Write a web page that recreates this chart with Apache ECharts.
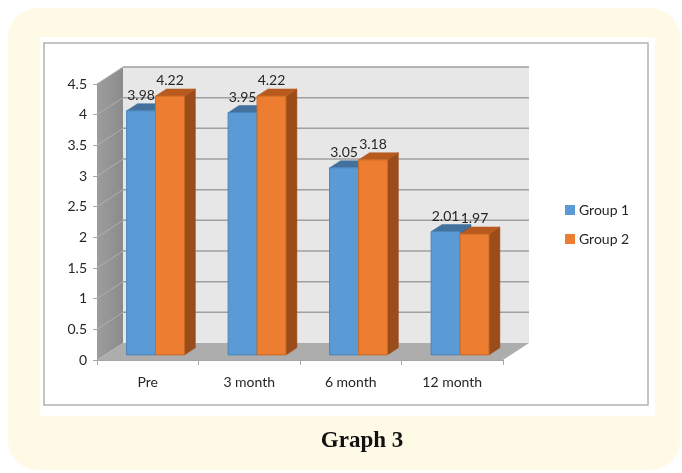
<!DOCTYPE html>
<html>
<head>
<meta charset="utf-8">
<script src="https://cdn.jsdelivr.net/npm/echarts@6/dist/echarts.min.js"></script>
<style>
  html, body { margin: 0; padding: 0; background: #ffffff; }
  #chart { width: 682px; height: 473px; }
</style>
</head>
<body>
<div id="chart"></div>
<script>
// Chart data
const categories = ['Pre', '3 month', '6 month', '12 month'];
const group1 = [3.98, 3.95, 3.05, 2.01];
const group2 = [4.22, 4.22, 3.18, 1.97];
const seriesNames = ['Group 1', 'Group 2'];
const yTicks = [0, 0.5, 1, 1.5, 2, 2.5, 3, 3.5, 4, 4.5];

// Oblique depth of the box: full depth, bar front plane, bar thickness
const DEPTH = [26, -17];
const BAR_FRONT = 0.3;
const BAR_DEPTH = 0.42;
const BAR_FRAC = 0.285;

const faces = [
  { front: '#5b9bd5', top: '#41719c', side: '#3b6a96', edge: '#4a84bb' },
  { front: '#ed7d31', top: '#b85a1e', side: '#9a4c1b', edge: '#c86a28' }
];

const chart = echarts.init(document.getElementById('chart'), null, { renderer: 'canvas' });

// Walls, floor and gridlines of the 3D box
function renderFrame(params, api) {
  const cs = params.coordSys;
  const x0 = cs.x, x1 = cs.x + cs.width;
  const yb = api.coord([0, 0])[1];
  const yt = api.coord([0, yTicks[yTicks.length - 1]])[1];
  const dx = DEPTH[0], dy = DEPTH[1];
  const children = [];
  // back wall
  children.push({ type: 'polygon', shape: { points: [[x0 + dx, yt + dy], [x1 + dx, yt + dy], [x1 + dx, yb + dy], [x0 + dx, yb + dy]] },
    style: { fill: '#e7e7e7' } });
  // left wall
  children.push({ type: 'polygon', shape: { points: [[x0, yt], [x0 + dx, yt + dy], [x0 + dx, yb + dy], [x0, yb]] },
    style: { fill: new echarts.graphic.LinearGradient(0, 0, 1, 0, [{ offset: 0, color: '#9d9d9d' }, { offset: 1, color: '#8b8b8b' }]) } });
  // floor
  children.push({ type: 'polygon', shape: { points: [[x0, yb], [x1, yb], [x1 + dx, yb + dy], [x0 + dx, yb + dy]] },
    style: { fill: '#adadad' } });
  // gridlines on left wall and back wall
  yTicks.forEach(function (v) {
    const y = api.coord([0, v])[1];
    if (v > 0) {
      children.push({ type: 'line', shape: { x1: x0, y1: y, x2: x0 + dx, y2: y + dy },
        style: { stroke: '#b0b0b0', lineWidth: 1 } });
      children.push({ type: 'line', shape: { x1: x0 + dx, y1: y + dy, x2: x1 + dx, y2: y + dy },
        style: { stroke: '#a0a0a0', lineWidth: 1.5 } });
    }
  });
  return { type: 'group', children: children };
}

// One 3D column per data item, with its value written above it
function makeBarRenderer(si) {
  const c = faces[si];
  return function (params, api) {
    const idx = api.value(0);
    const v = api.value(1);
    const base = api.coord([idx, 0]);
    const topP = api.coord([idx, v]);
    const band = api.size([1, 0])[0];
    const bw = band * BAR_FRAC;
    const fx = DEPTH[0] * BAR_FRONT, fy = DEPTH[1] * BAR_FRONT;
    const sx = DEPTH[0] * BAR_DEPTH, sy = DEPTH[1] * BAR_DEPTH;
    const cx = base[0] + fx;
    const xl = si === 0 ? cx - bw : cx;
    const xr = xl + bw;
    const by = base[1] + fy;
    const ty = topP[1] + fy;
    return {
      type: 'group',
      children: [
        { type: 'polygon', shape: { points: [[xr, ty], [xr + sx, ty + sy], [xr + sx, by + sy], [xr, by]] },
          style: { fill: c.side, stroke: c.side, lineWidth: 0.5 } },
        { type: 'polygon', shape: { points: [[xl, ty], [xr, ty], [xr + sx, ty + sy], [xl + sx, ty + sy]] },
          style: { fill: c.top, stroke: c.top, lineWidth: 0.5 } },
        { type: 'rect', shape: { x: xl, y: ty, width: bw, height: by - ty },
          style: { fill: c.front, stroke: c.edge, lineWidth: 1 } },
        { type: 'text', x: xl + bw / 2, y: ty - 15.5,
          style: { text: String(v), fill: '#262626', font: '14px Lato', align: 'center', verticalAlign: 'middle' } }
      ]
    };
  };
}

const barSeries = [group1, group2].map(function (vals, si) {
  return {
    name: seriesNames[si],
    type: 'custom',
    coordinateSystem: 'cartesian2d',
    renderItem: makeBarRenderer(si),
    itemStyle: { color: faces[si].front },
    data: vals.map(function (v, i) { return [i, v]; }),
    z: 3
  };
});

chart.setOption({
  animation: false,
  backgroundColor: '#ffffff',
  textStyle: { fontFamily: 'Lato' },
  graphic: [
    { type: 'rect', z: -10, shape: { x: 8, y: 8, width: 672, height: 462, r: 30 }, style: { fill: '#fffae6' } },
    { type: 'rect', z: -9, shape: { x: 40, y: 37, width: 615, height: 379 }, style: { fill: '#ffffff' } },
    { type: 'rect', z: -8, shape: { x: 44, y: 43, width: 604, height: 362 }, style: { fill: 'none', stroke: '#b3b3b3', lineWidth: 1.5 } },
    { type: 'text', z: 10, x: 362, y: 441,
      style: { text: 'Graph 3', font: 'bold 23px "Liberation Serif"', fill: '#111111', align: 'center', verticalAlign: 'middle' } }
  ],
  legend: {
    data: seriesNames,
    orient: 'vertical',
    left: 560,
    top: 198,
    icon: 'rect',
    itemWidth: 10,
    itemHeight: 10,
    itemGap: 15,
    textStyle: { fontFamily: 'Lato', fontSize: 14, color: '#262626', padding: [0, 0, 0, -1] }
  },
  grid: { left: 97, top: 84, width: 406, height: 276 },
  xAxis: {
    type: 'category',
    data: categories,
    boundaryGap: true,
    axisLine: { show: true, lineStyle: { color: '#a6a6a6', width: 1 } },
    axisTick: { show: true, length: 5, lineStyle: { color: '#a6a6a6' } },
    axisLabel: { color: '#262626', fontSize: 14, fontFamily: 'Lato', margin: 15 },
    splitLine: { show: false }
  },
  yAxis: {
    type: 'value',
    min: 0,
    max: 4.5,
    interval: 0.5,
    axisLine: { show: true, lineStyle: { color: '#a6a6a6', width: 1 } },
    axisTick: { show: true, length: 4, lineStyle: { color: '#a6a6a6' } },
    axisLabel: { color: '#262626', fontSize: 14, fontFamily: 'Lato', margin: 10 },
    splitLine: { show: false }
  },
  series: [
    {
      type: 'custom',
      coordinateSystem: 'cartesian2d',
      renderItem: renderFrame,
      data: [[0, 0]],
      silent: true,
      z: 1
    }
  ].concat(barSeries)
});
</script>
</body>
</html>
